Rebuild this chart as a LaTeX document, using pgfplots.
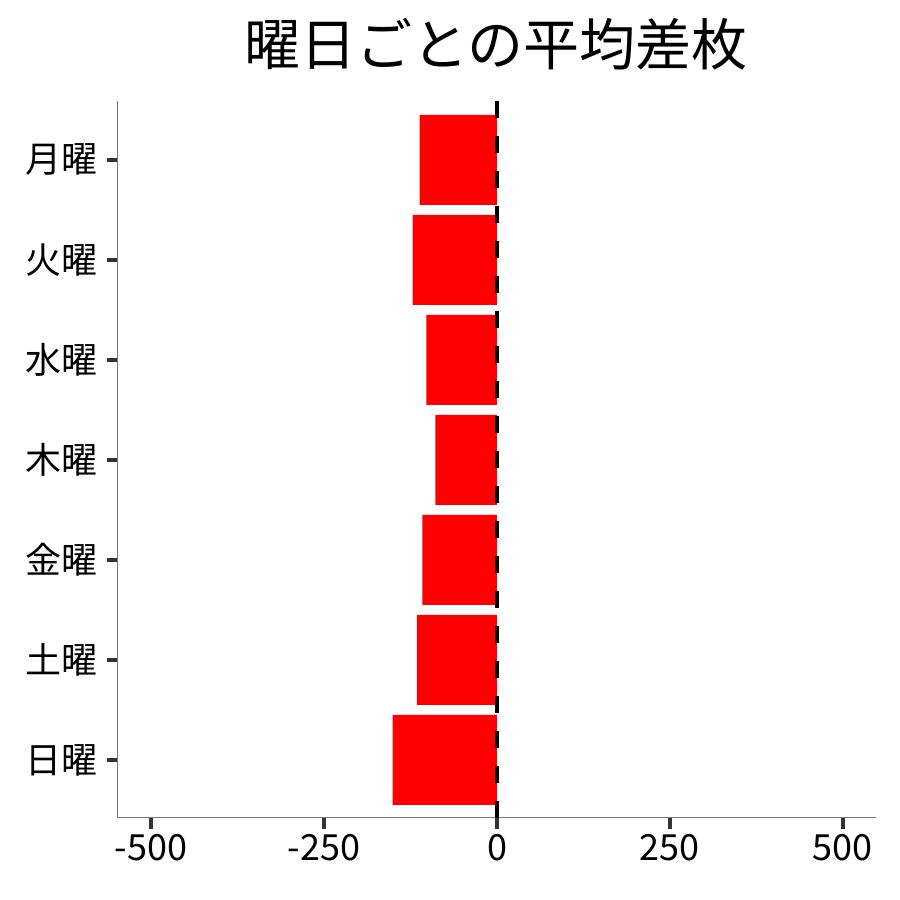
\documentclass[border=0pt]{standalone}
\usepackage{fontspec}
\setmainfont{Noto Sans CJK JP}
\usepackage{pgfplots}
\pgfplotsset{compat=1.18}
\definecolor{tickgray}{RGB}{51,51,51}
\definecolor{axgray}{RGB}{120,120,120}

\begin{document}
\begin{tikzpicture}
\begin{axis}[
    name=ax,
    scale only axis,
    width=379pt, height=358.5pt,
    xmin=-548, xmax=548,
    ymin=-0.58, ymax=6.59,
    axis x line*=bottom,
    axis y line*=left,
    axis line style={draw=axgray, line width=0.5pt},
    xtick={-500,-250,0,250,500},
    xticklabels={-500,-250,0,250,500},
    ytick={0,1,2,3,4,5,6},
    yticklabels={日曜,土曜,金曜,木曜,水曜,火曜,月曜},
    tick align=outside,
    major tick length=5.5pt,
    major tick style={draw=tickgray, line width=1.8pt},
    tick label style={font=\fontsize{18}{21}\selectfont, text=black},
    yticklabel style={xshift=-1pt},
    xticklabel style={yshift=1pt},
    xbar, bar width=0.9,
]
\addplot[fill=red, draw=none] coordinates {
    (-151,0) (-116,1) (-108,2) (-89,3) (-102,4) (-122,5) (-112,6)
};
\end{axis}
\begin{axis}[
    scale only axis,
    width=379pt, height=358.5pt,
    xmin=-548, xmax=548,
    ymin=-0.58, ymax=6.59,
    hide axis,
]
\addplot[black, line width=2pt, dash pattern=on 8.5pt off 9pt] coordinates {(0,6.59) (0,-0.58)};
\end{axis}
\node[font=\fontsize{28}{33}\selectfont] at ([xshift=-0.5pt, yshift=28.5pt]ax.north) {曜日ごとの平均差枚};
\path[use as bounding box] ([xshift=-59pt,yshift=-41pt]ax.south west) rectangle ([xshift=12pt,yshift=50.5pt]ax.north east);
\end{tikzpicture}
\end{document}
